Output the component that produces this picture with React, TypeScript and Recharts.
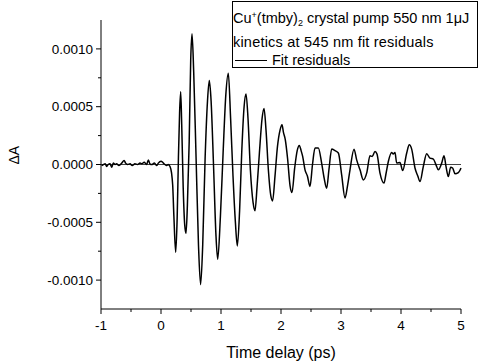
import React from 'react'
import { LineChart, Line, XAxis, YAxis, ReferenceLine } from 'recharts'

const times = [
  -0.99, -0.96, -0.93, -0.905, -0.88, -0.85, -0.82, -0.795, -0.765, -0.74, -0.7, -0.655, -0.615, -0.59,
  -0.555, -0.515, -0.48, -0.435, -0.39, -0.35, -0.32, -0.28, -0.24, -0.21, -0.185, -0.155, -0.11, -0.07,
  -0.045, 0.0, 0.04, 0.065, 0.095, 0.12, 0.15, 0.175, 0.195,
  0.215, 0.245, 0.27, 0.29, 0.31, 0.328, 0.345, 0.37, 0.395, 0.417, 0.44, 0.47, 0.495, 0.517, 0.545,
  0.585, 0.625, 0.66, 0.695, 0.735, 0.775, 0.805, 0.835, 0.875, 0.915, 0.945, 0.99, 1.035, 1.08, 1.122,
  1.16, 1.2, 1.24, 1.272, 1.31, 1.345, 1.385, 1.417, 1.45, 1.49, 1.535, 1.567, 1.6, 1.64, 1.685, 1.717,
  1.75, 1.79, 1.83, 1.86, 1.9, 1.94, 1.985, 2.017, 2.04, 2.072, 2.11, 2.15, 2.183, 2.228, 2.27, 2.305,
  2.335, 2.361, 2.4, 2.44, 2.483, 2.525, 2.567, 2.622, 2.678, 2.72, 2.761, 2.8, 2.845, 2.9, 2.956, 3.011,
  3.067, 3.11, 3.15, 3.217, 3.261, 3.317, 3.372, 3.43, 3.483, 3.52, 3.567, 3.6, 3.65, 3.717, 3.75, 3.789,
  3.845, 3.87, 3.9, 3.928, 3.983, 4.028, 4.095, 4.138, 4.178, 4.233, 4.28, 4.317, 4.372, 4.428, 4.483,
  4.539, 4.583, 4.622, 4.678, 4.717, 4.75, 4.789, 4.828, 4.86, 4.9, 4.956, 5.0,
]

const residuals = [
  -0.000009, 0, 0.000006, -0.000017, 0, 0.000006, -0.000023, 0.000012, 0, 0.000006, -0.000009, 0.000012,
  0.000035, 0.000012, 0, 0.000006, -0.000009, 0.000006, 0, 0.000012, 0.000006, 0.00002, 0, 0.00004,
  0.000006, 0, 0.000012, -0.000009, 0.000012, 0.000029, 0.000012, 0, -0.000009, 0, -0.000017, -0.00007,
  -0.00018,
  -0.00045, -0.00076, -0.00045, 0.00005, 0.00045, 0.00063, 0.00035, -0.0002, -0.00052, -0.000595, -0.00035,
  0.0002, 0.0009, 0.00113, 0.0008, 0.00005, -0.0007, -0.00104, -0.0007, 0.00005, 0.00055, 0.000726, 0.00055,
  0.0, -0.0006, -0.00082, -0.00045, 0.0001, 0.0006, 0.00079, 0.0004, -0.0001, -0.0005, -0.000705, -0.0004,
  0.0001, 0.0005, 0.00061, 0.0004, -0.00005, -0.00033, -0.0004, -0.0002, 0.0001, 0.0004, 0.000485, 0.0003,
  -0.00005, -0.00027, -0.000315, -0.0001, 0.00015, 0.0003, 0.000344, 0.00028, 0.000214, 0.00005, -0.00018,
  -0.000243, -0.00003, 0.00012, 0.000165, 0.00012, 0.00007, -0.000046, -0.0001, -0.00019, 0.0, 0.000142,
  0.000142, 0.00001, -0.00012, -0.000205, -0.00004, 0.000134, 0.00012, 0.0001, -0.00009, -0.00029, -0.00018,
  -0.000046, 0.000133, 0.00004, -0.000046, -0.000133, -0.00007, 0.000075, 0.00007, 0.000113, 0.00009,
  -0.000075, -0.000161, -0.00008, 0.000026, 0.000104, 0.00009, 0.000104, 0.000012, 0.000017, -0.000052,
  0.0001, 0.00017, 0.000133, -0.00003, -0.0001, -0.000147, -0.000017, 0.000093, 0.000055, 0.000047,
  -0.000003, -0.000046, 0.000012, 0.000075, -0.000017, -0.000104, -0.000023, -0.00003, -0.00008, -0.00007,
  -0.00003,
]

const xTicks = [-1, -0.5, 0, 0.5, 1, 1.5, 2, 2.5, 3, 3.5, 4, 4.5, 5]
const yTicks = [-0.00125, -0.001, -0.00075, -0.0005, -0.00025, 0, 0.00025, 0.0005, 0.00075, 0.001, 0.00125]

const data = times.map((t, i) => ({ t, r: residuals[i] }))

const font = '"Liberation Sans", Arial, sans-serif'

const isMajorX = (v: number) => Number.isInteger(v)
const isMajorY = (v: number) => Math.abs(Math.round(v / 0.0005) * 0.0005 - v) < 1e-9

const XTick = (props: any) => {
  const { x, y, payload } = props
  const v = payload.value
  const axisY = y - 11
  const major = isMajorX(v)
  return (
    <g>
      <line x1={x} x2={x} y1={axisY} y2={axisY + (major ? 5 : 3)} stroke="#000" />
      {major && (
        <text x={x} y={y} dy="0.71em" textAnchor="middle" fontSize={13.5} fontFamily={font} fill="#000">
          {v}
        </text>
      )}
    </g>
  )
}

const YTick = (props: any) => {
  const { x, y, payload } = props
  const v = payload.value
  const axisX = x + 8
  const major = isMajorY(v)
  if (Math.abs(v) > 0.0012) return null
  return (
    <g>
      <line x1={axisX - (major ? 5 : 3)} x2={axisX} y1={y} y2={y} stroke="#000" />
      {major && (
        <text x={x} y={y} dy="0.355em" textAnchor="end" fontSize={13.5} fontFamily={font} fill="#000">
          {v.toFixed(4)}
        </text>
      )}
    </g>
  )
}

const App = () => {
  return (
    <div style={{ position: 'absolute', left: 0, top: 0, width: 479, height: 361, background: '#fff' }}>
      <LineChart width={479} height={361} data={data} margin={{ top: 20, right: 18, left: 0, bottom: 0 }}>
        <XAxis
          dataKey="t"
          type="number"
          domain={[-1, 5]}
          ticks={xTicks}
          interval={0}
          tickLine={false}
          tickSize={5}
          tickMargin={6}
          tick={<XTick />}
          height={52}
          axisLine={{ stroke: '#000' }}
          label={{ value: 'Time delay (ps)', position: 'insideBottom', offset: 3, fontSize: 16, fontFamily: font, fill: '#000' }}
        />
        <YAxis
          type="number"
          domain={[-0.00125, 0.00125]}
          ticks={yTicks}
          interval={0}
          tickLine={false}
          tickSize={5}
          tickMargin={3}
          tick={<YTick />}
          width={101}
          axisLine={{ stroke: '#000' }}
          label={{ value: 'ΔA', angle: -90, position: 'insideLeft', offset: 14, fontSize: 14, fontFamily: font, fill: '#000' }}
        />
        <ReferenceLine y={0} stroke="#444" strokeWidth={1} />
        <Line type="monotone" dataKey="r" stroke="#000" strokeWidth={1.5} dot={false} isAnimationActive={false} />
      </LineChart>
      <div
        style={{
          position: 'absolute', left: 232, top: 1, width: 246, height: 67, boxSizing: 'border-box',
          border: '1px solid #000', background: '#fff', fontFamily: font, fontSize: 14.5, color: '#000',
          lineHeight: '16px', whiteSpace: 'nowrap',
        }}
      >
        <div style={{ position: 'absolute', left: 0, top: 5 }}>
          Cu<sup style={{ fontSize: 9, verticalAlign: 5 }}>+</sup>(tmby)<sub style={{ fontSize: 9, verticalAlign: -3 }}>2</sub> crystal pump 550 nm 1μJ
        </div>
        <div style={{ position: 'absolute', left: 0, top: 32, letterSpacing: 0.2 }}>kinetics at 545 nm fit residuals</div>
        <div style={{ position: 'absolute', left: 2, top: 50, display: 'flex', alignItems: 'center' }}>
          <span style={{ display: 'inline-block', width: 32, height: 0, borderTop: '1.5px solid #000', marginRight: 5 }} />
          Fit residuals
        </div>
      </div>
    </div>
  )
}

export default App
